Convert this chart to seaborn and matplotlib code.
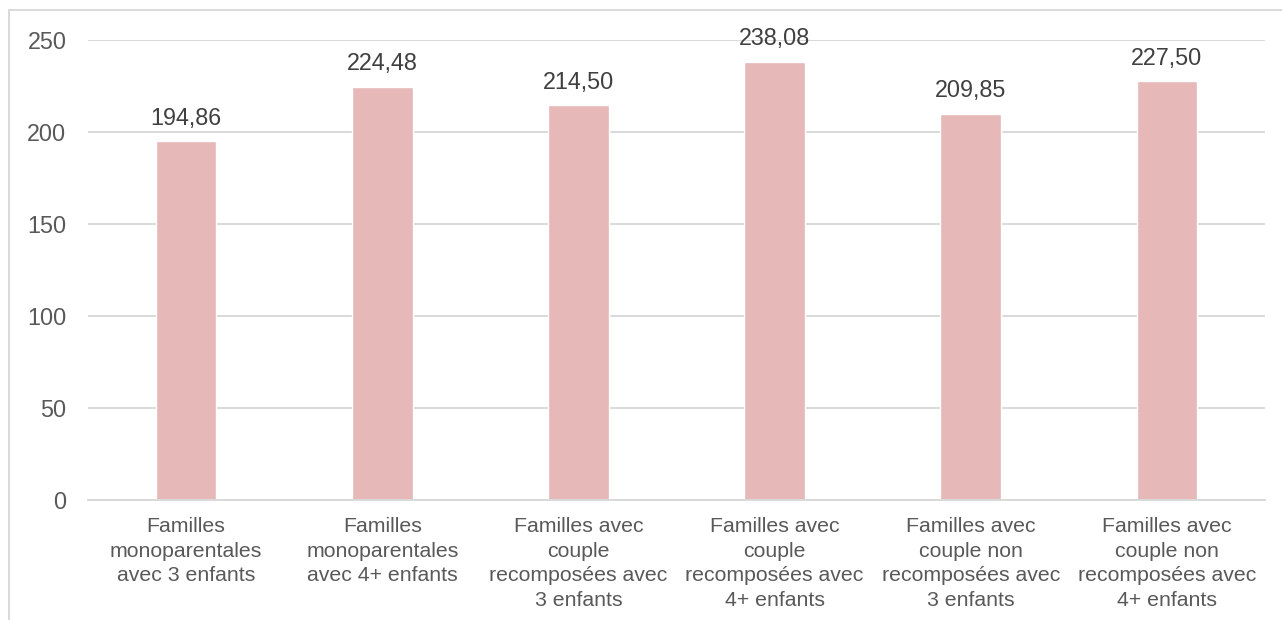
import matplotlib
matplotlib.use("Agg")
import matplotlib.pyplot as plt
from matplotlib.patches import Rectangle
import seaborn as sns
import pandas as pd

categories = [
    "Familles\nmonoparentales\navec 3 enfants",
    "Familles\nmonoparentales\navec 4+ enfants",
    "Familles avec\ncouple\nrecomposées avec\n3 enfants",
    "Familles avec\ncouple\nrecomposées avec\n4+ enfants",
    "Familles avec\ncouple non\nrecomposées avec\n3 enfants",
    "Familles avec\ncouple non\nrecomposées avec\n4+ enfants",
]
values = [194.86, 224.48, 214.50, 238.08, 209.85, 227.50]
y_ticks = [0, 50, 100, 150, 200, 250]

BAR = "#E6B8B7"
TEXT = "#595959"
GRID = "#D9D9D9"

sns.set_theme(style="white")
plt.rcParams["font.family"] = ["Liberation Sans", "DejaVu Sans"]

df = pd.DataFrame({"cat": categories, "val": values})

fig = plt.figure(figsize=(12.82, 6.20), dpi=100)
ax = fig.add_axes([88 / 1282, 1 - 500 / 620, (1265 - 88) / 1282, 460 / 620])

sns.barplot(data=df, x="cat", y="val", color=BAR, width=0.31,
            saturation=1, ax=ax, zorder=3)

ax.set_ylim(0, 250)
ax.set_xlim(-0.5, len(categories) - 0.5)
ax.set_yticks(y_ticks)
ax.set_xlabel("")
ax.set_ylabel("")
ax.grid(axis="y", color=GRID, linewidth=1.4, zorder=0)
ax.grid(axis="x", visible=False)
for s in ["top", "right", "left"]:
    ax.spines[s].set_visible(False)
ax.spines["bottom"].set_color(GRID)
ax.spines["bottom"].set_linewidth(1.4)
ax.spines["bottom"].set_zorder(4)

ax.tick_params(axis="y", length=0, pad=15.5, labelsize=16.8, labelcolor=TEXT)
ax.tick_params(axis="x", length=0, pad=12.5, labelsize=15.3, labelcolor=TEXT)
for lbl in ax.get_xticklabels():
    lbl.set_linespacing(1.36)

for i, v in enumerate(values):
    ax.annotate(f"{v:.2f}".replace(".", ","), (i, v), xytext=(0, 8.5),
                textcoords="offset points", ha="center", va="bottom",
                fontsize=16.8, color="#404040", clip_on=False)

# light frame around the chart area
fig.patches.append(Rectangle((9 / 1282, -0.1), 1.2, 1.1 - 10 / 620,
                             transform=fig.transFigure, fill=False,
                             edgecolor="#D9D9D9", linewidth=1.4))

fig.savefig("out.png", dpi=100)
